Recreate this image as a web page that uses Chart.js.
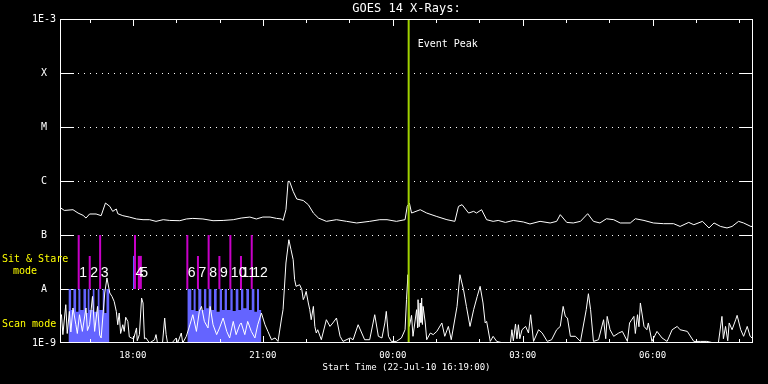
<!DOCTYPE html>
<html>
<head>
<meta charset="utf-8">
<script src="https://cdn.jsdelivr.net/npm/chart.js@4.4.1/dist/chart.umd.min.js"></script>
<style>
  html, body { margin: 0; padding: 0; background: #000; }
  canvas { display: block; }
</style>
</head>
<body>
<canvas id="goes-chart" width="768" height="384"></canvas>
<script>

// Axis data (x in minutes after 22-Jul-10 16:19:00)
const startLabel = 'Start Time (22-Jul-10 16:19:00)';
const hourTimes = [41, 101, 161, 221, 281, 341, 401, 461, 521, 581, 641, 701, 761, 821, 881, 941];
const tickTimes = [101, 281, 461, 641, 821];
const tickLabels = ['18:00', '21:00', '00:00', '03:00', '06:00'];
const levelValues = [1e-9, 1e-8, 1e-7, 1e-6, 1e-5, 1e-4, 1e-3];
const levelLabels = ['1E-9', 'A', 'B', 'C', 'M', 'X', '1E-3'];

// Event peak
const eventTime = 483;

// GOES long channel (units of 1e-7 W/m^2)
const longTimes = [0, 6, 18, 25, 32, 36, 41, 50, 57, 63, 69, 73, 78, 80, 87, 96, 106, 115, 124, 133,
    143, 152, 166, 175, 184, 198, 212, 226, 240, 251, 263, 272, 281, 291, 300, 307, 309, 313, 316, 318,
    323, 328, 337, 344, 351, 358, 369, 383, 397, 411, 429, 443, 453, 466, 478, 481, 484, 487, 499, 508,
    522, 536, 547, 552, 557, 566, 573, 577, 584, 591, 600, 607, 617, 628, 642, 651, 665, 679, 688, 693,
    702, 711, 721, 731, 739, 748, 757, 767, 776, 790, 797, 809, 822, 836, 850, 859, 871, 878, 890, 899,
    906, 915, 924, 931, 940, 947, 957, 960];
const longFlux = [3.24, 2.85, 2.94, 2.55, 2.31, 2.06, 2.45, 2.45, 2.28, 3.91, 3.39, 2.74, 3.03, 2.48, 2.28, 2.15, 1.98, 1.92, 1.92, 1.79,
    1.92, 1.86, 1.84, 1.98, 2.03, 1.98, 1.84, 1.86, 1.92, 2.06, 2.15, 1.98, 2.15, 2.15, 2.03, 1.98, 1.86, 2.94, 9.83, 9.83,
    6.42, 4.64, 4.35, 3.64, 2.55, 2.06, 1.79, 1.92, 1.79, 1.67, 1.79, 1.92, 1.92, 1.79, 1.92, 3.39, 3.91, 2.55, 2.94, 2.55,
    2.20, 1.92, 1.79, 3.39, 3.64, 2.55, 2.74, 2.55, 2.94, 1.92, 1.79, 1.86, 1.71, 1.86, 1.74, 1.60, 1.79, 1.67, 1.79, 2.38,
    1.71, 1.67, 1.79, 2.48, 1.79, 1.67, 2.00, 1.92, 1.67, 1.67, 2.00, 1.86, 1.67, 1.62, 1.62, 1.44, 1.71, 1.55, 1.79, 1.35,
    1.67, 1.44, 1.35, 1.44, 1.79, 1.67, 1.44, 1.44];

// GOES short channel (units of 1e-9 W/m^2)
const shortTimes = [0, 2, 4, 8, 10, 13, 15, 18, 22, 24, 27, 31, 36, 38, 41, 45, 48, 52, 55, 57,
    62, 65, 69, 72, 75, 78, 80, 82, 84, 87, 89, 91, 94, 96, 99, 102, 106, 107, 110, 113,
    115, 117, 119, 124, 131, 133, 135, 142, 145, 147, 149, 155, 161, 163, 168, 170, 175, 180, 184, 189,
    193, 196, 200, 205, 208, 212, 217, 221, 226, 231, 235, 240, 244, 249, 251, 256, 260, 265, 270, 274,
    279, 284, 288, 293, 298, 302, 307, 309, 313, 317, 320, 323, 325, 327, 332, 335, 337, 339, 341, 344,
    346, 348, 351, 353, 355, 357, 362, 369, 374, 378, 383, 388, 392, 402, 406, 413, 418, 422, 429, 436,
    441, 446, 450, 452, 455, 459, 466, 473, 478, 480, 482, 484, 487, 489, 494, 495.5, 496, 497.5, 499, 500,
    501, 502, 503, 506, 508, 513, 517, 522, 529, 533, 538, 542, 550, 554, 559, 563, 568, 573, 578, 582,
    586, 589, 591, 596, 600, 605, 614, 624, 626, 628, 631, 633, 635, 637, 640, 645, 649, 652, 656, 663,
    668, 675, 681, 688, 693, 697, 700, 703, 707, 714, 721, 729, 732, 735, 739, 746, 753, 756, 758, 762,
    767, 774, 779, 786, 789, 795, 797, 800, 802, 804, 809, 813, 815, 820, 827, 834, 841, 848, 855, 859,
    869, 878, 887, 896, 906, 912, 917, 919, 922, 925, 927, 931, 936, 938, 943, 947, 952, 956, 960];
const shortFlux = [3.34, 3.34, 1.43, 5.12, 1.5, 3.85, 1.6, 4.45, 2.18, 1.5, 3.34, 1.64, 4.45, 1.7, 2.18, 7.29, 1.64, 4.76, 1.4, 1.24,
    8.43, 16.0, 8.43, 7.29, 5.89, 3.85, 2.18, 3.59, 1.5, 2.18, 1.64, 3.0, 2.51, 1.3, 1.24, 1.2, 1.90, 1.1, 1.43, 6.81,
    5.51, 1.2, 1.24, 1.0, 1.15, 1.43, 1.0, 1.0, 2.90, 1.43, 1.0, 1.0, 1.24, 1.0, 1.53, 1.0, 1.33, 2.18, 3.34, 1.64,
    3.85, 4.76, 2.51, 1.90, 4.76, 2.18, 1.43, 1.90, 2.90, 1.64, 1.24, 2.51, 1.43, 2.18, 2.35, 1.43, 2.51, 1.64, 1.24, 2.18,
    3.59, 2.18, 1.64, 1.15, 1.24, 1.07, 2.9, 4.14, 30.3, 81.8, 53.4, 34.9, 14.9, 11.2, 12.0, 9.70, 6.34, 7.29, 9.03, 5.51,
    4.14, 2.70, 4.76, 2.03, 1.53, 1.76, 1.15, 2.70, 2.03, 2.35, 2.90, 1.33, 1.07, 1.24, 1.15, 2.18, 1.53, 1.15, 1.15, 3.34,
    1.33, 1.24, 2.35, 3.85, 1.33, 1.07, 1.07, 1.24, 1.76, 6.34, 18.4, 2.03, 3.25, 1.33, 4.14, 1.9, 6.34, 2.0, 5.51, 2.4,
    6.81, 2.2, 4.76, 2.35, 1.15, 1.53, 1.43, 1.64, 2.35, 1.33, 2.03, 1.15, 4.76, 18.4, 9.70, 4.76, 2.03, 4.14, 7.29, 11.2,
    5.51, 2.35, 2.51, 1.07, 1.33, 1.07, 1.0, 1.0, 1.76, 1.1, 2.25, 1.2, 2.18, 1.2, 1.76, 2.03, 1.53, 3.34, 1.07, 1.76,
    1.53, 1.07, 1.15, 1.76, 2.03, 4.76, 3.11, 2.90, 1.33, 1.33, 1.07, 4.14, 8.18, 4.14, 1.07, 1.15, 2.70, 1.2, 3.11, 1.76,
    1.33, 1.53, 1.64, 1.07, 2.35, 3.11, 1.5, 3.34, 2.0, 5.51, 2.03, 1.76, 2.35, 1.07, 1.64, 1.24, 1.07, 1.76, 2.03, 1.76,
    1.64, 1.07, 1.07, 1.07, 1.0, 1.0, 3.11, 1.2, 2.03, 1.1, 2.35, 1.76, 2.70, 3.25, 1.76, 1.33, 2.03, 1.33, 1.2];

// Sit & Stare pointings: time, top of mark (bottom is A level)
const sitTimes = [25.9, 41.2, 55.6, 103.9, 110.6, 176.4, 191.1, 205.9, 220.8, 236.0, 250.7, 265.6];
const sitTops = [1e-7, 4.1e-8, 1e-7, 1e-7, 4.1e-8, 1e-7, 4.1e-8, 1e-7, 4.1e-8, 1e-7, 4.1e-8, 1e-7];
const sitLabels = ['1', '2', '3', '4', '5', '6', '7', '8', '9', '10', '11', '12'];
const stareBlueTimes = [101.8];

// Scan mode blocks: interval edges and level per interval (units of 1e-9)
const scanEdges1 = [11.7, 15.4, 18.6, 22.3, 25.5, 28.3, 32.5, 36.2, 38.4, 40.8, 45.4, 47.7, 52.3, 54.7, 59.2, 61.6, 64.4, 68.5];
const scanLevels1 = [10, 4.1, 10, 3.8, 10, 4.1, 10, 3.6, 10, 4.1, 10, 3.8, 10, 4.1, 10, 3.6, 10];
const scanEdges2 = [176.4, 181.9, 185.1, 187.9, 191.6, 195.8, 199.4, 202.7, 205.9, 209.7, 213.3, 217.0, 221.2, 224.4, 228.1,
    231.3, 236.0, 239.2, 243.4, 247.1, 250.7, 254.0, 258.2, 261.8, 265.6, 269.3, 272.9, 275.7, 279.0];
const scanLevels2 = [10, 4.1, 10, 3.9, 10, 4.1, 10, 4.4, 10, 4.1, 10, 3.8, 10, 4.1, 10, 4.1, 10, 3.9, 10, 4.1, 10, 4.4, 10, 4.1, 10, 3.8, 10, 4.1];


const mono = 'DejaVu Sans Mono';
const canvas = document.getElementById('goes-chart');

function scanPoints(edges, levels) {
    const pts = [];
    levels.forEach((lv, i) => {
        pts.push({ x: edges[i], y: lv * 1e-9 });
        pts.push({ x: edges[i + 1], y: lv * 1e-9 });
    });
    return pts;
}

function segments(times, tops) {
    const pts = [];
    times.forEach((t, i) => {
        pts.push({ x: t, y: 1e-8 }, { x: t, y: tops[i] }, { x: t, y: null });
    });
    return pts;
}

// dotted grid, inward ticks, frame and extra labels
const decor = {
    id: 'decor',
    beforeDatasetsDraw(chart) {
        const { ctx, chartArea: a, scales: { y } } = chart;
        ctx.save();
        ctx.strokeStyle = '#fff';
        ctx.lineWidth = 1;
        levelValues.slice(1, -1).forEach(v => {
            const py = Math.round(y.getPixelForValue(v)) + 0.5;
            ctx.setLineDash([]);
            ctx.beginPath();
            ctx.moveTo(a.left, py);
            ctx.lineTo(a.left + 14, py);
            ctx.moveTo(a.right - 14, py);
            ctx.lineTo(a.right, py);
            ctx.stroke();
            ctx.setLineDash([1, 5]);
            ctx.beginPath();
            ctx.moveTo(a.left + 18, py);
            ctx.lineTo(a.right - 16, py);
            ctx.stroke();
        });
        ctx.restore();
    },
    afterDatasetsDraw(chart) {
        const { ctx, chartArea: a, scales: { x } } = chart;
        ctx.save();
        ctx.strokeStyle = '#fff';
        ctx.lineWidth = 1;
        ctx.strokeRect(a.left + 0.5, a.top + 0.5, a.width - 1, a.height - 1);

        ctx.beginPath();
        hourTimes.forEach(t => {
            const px = Math.round(x.getPixelForValue(t)) + 0.5;
            const len = tickTimes.includes(t) ? 7 : 4;
            ctx.moveTo(px, a.top);
            ctx.lineTo(px, a.top + len);
            ctx.moveTo(px, a.bottom);
            ctx.lineTo(px, a.bottom - len);
        });
        ctx.stroke();

        // Sit & Stare numbers
        ctx.fillStyle = '#fff';
        ctx.font = '14px "Liberation Sans"';
        ctx.textAlign = 'left';
        ctx.textBaseline = 'middle';
        sitTimes.forEach((t, i) => {
            ctx.fillText(sitLabels[i], x.getPixelForValue(t) + 0.5, 273);
        });

        ctx.font = '10px "' + mono + '"';
        ctx.fillText('Event Peak', x.getPixelForValue(eventTime) + 9, 44);
        ctx.restore();
    },
    afterDraw(chart) {
        const { ctx } = chart;
        ctx.save();
        ctx.fillStyle = '#ffff00';
        ctx.font = '10px "' + mono + '"';
        ctx.textAlign = 'left';
        ctx.textBaseline = 'middle';
        ctx.fillText('Sit & Stare', 2, 259);
        ctx.fillText('mode', 13, 271);
        ctx.fillText('Scan mode', 2, 324);
        ctx.restore();
    }
};

new Chart(canvas, {
    type: 'line',
    data: {
        datasets: [
            {
                data: [{ x: eventTime, y: 1e-9 }, { x: eventTime, y: 1e-3 }],
                borderColor: '#a0d200',
                borderWidth: 2
            },
            {
                data: longTimes.map((t, i) => ({ x: t, y: longFlux[i] * 1e-7 })),
                borderColor: '#ffffff',
                borderWidth: 1
            },
            {
                data: shortTimes.map((t, i) => ({ x: t, y: shortFlux[i] * 1e-9 })),
                borderColor: '#ffffff',
                borderWidth: 1
            },
            {
                data: segments(sitTimes.filter((_, i) => i !== 4), sitTops.filter((_, i) => i !== 4)),
                borderColor: '#c800c8',
                borderWidth: 2
            },
            {
                data: segments([sitTimes[4]], [sitTops[4]]),
                borderColor: '#c800c8',
                borderWidth: 4
            },
            {
                data: segments(stareBlueTimes, [4.1e-8]),
                borderColor: '#6464ff',
                borderWidth: 1
            },
            {
                data: scanPoints(scanEdges1, scanLevels1),
                borderWidth: 0,
                borderColor: 'rgba(0,0,0,0)',
                backgroundColor: '#6464ff',
                fill: 'start'
            },
            {
                data: scanPoints(scanEdges2, scanLevels2),
                borderWidth: 0,
                borderColor: 'rgba(0,0,0,0)',
                backgroundColor: '#6464ff',
                fill: 'start'
            }
        ]
    },
    options: {
        responsive: false,
        animation: false,
        devicePixelRatio: 1,
        spanGaps: false,
        elements: { point: { radius: 0 }, line: { tension: 0 } },
        layout: { padding: { right: 15 } },
        plugins: {
            legend: { display: false },
            tooltip: { enabled: false },
            title: {
                display: true,
                fullSize: false,
                text: 'GOES 14 X-Rays:',
                color: '#ffffff',
                font: { family: mono, size: 12, weight: 'normal', lineHeight: 1 },
                padding: { top: 3, bottom: 4 }
            }
        },
        scales: {
            x: {
                type: 'linear',
                min: 0,
                max: 960,
                grid: { display: false, drawTicks: false },
                border: { display: false },
                ticks: {
                    color: '#ffffff',
                    font: { family: mono, size: 9 },
                    padding: 7,
                    maxRotation: 0,
                    autoSkip: false,
                    callback: (v, i) => tickLabels[i]
                },
                afterBuildTicks: s => { s.ticks = tickTimes.map(v => ({ value: v })); },
                afterFit: s => { s.height = 41; },
                title: {
                    display: true,
                    text: startLabel,
                    color: '#ffffff',
                    font: { family: mono, size: 9 },
                    padding: { top: 2, bottom: 11 }
                }
            },
            y: {
                type: 'logarithmic',
                min: 1e-9,
                max: 1e-3,
                grid: { display: false, drawTicks: false },
                border: { display: false },
                ticks: {
                    color: '#ffffff',
                    font: { family: mono, size: 10 },
                    padding: 4,
                    crossAlign: 'center',
                    autoSkip: false,
                    callback: (v, i) => levelLabels[i]
                },
                afterBuildTicks: s => { s.ticks = levelValues.map(v => ({ value: v })); },
                afterFit: s => { s.width = 60; }
            }
        }
    },
    plugins: [decor]
});
</script>
</body>
</html>
